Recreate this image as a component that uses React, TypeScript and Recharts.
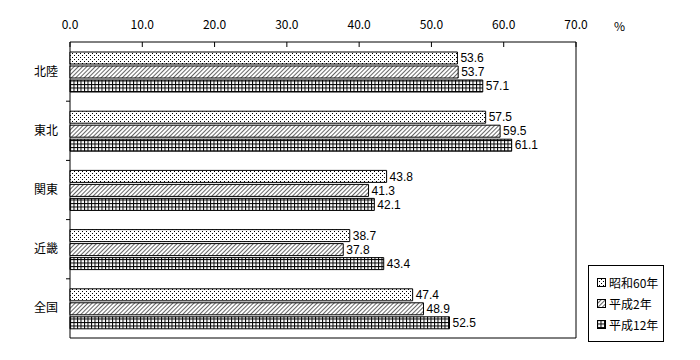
import { Bar, BarChart, LabelList, Legend, ReferenceArea, XAxis, YAxis } from "recharts";

const regions = ["北陸", "東北", "関東", "近畿", "全国"];
const showa60 = [53.6, 57.5, 43.8, 38.7, 47.4];
const heisei2 = [53.7, 59.5, 41.3, 37.8, 48.9];
const heisei12 = [57.1, 61.1, 42.1, 43.4, 52.5];
const xTicks = [0, 10, 20, 30, 40, 50, 60, 70];

const seriesKeys = ["s60", "h2", "h12"];
const seriesNames: Record<string, string> = { s60: "昭和60年", h2: "平成2年", h12: "平成12年" };
const patternOf: Record<string, string> = { s60: "pat-dots", h2: "pat-hatch", h12: "pat-grid" };

const rows = regions.map((name, i) => ({
  name,
  s60: showa60[i],
  h2: heisei2[i],
  h12: heisei12[i],
}));

const FONT = "'Noto Sans CJK JP', 'DejaVu Sans', sans-serif";
const NUM_FONT = "'Liberation Sans', Arial, sans-serif";

function Patterns({ prefix = "" }: { prefix?: string }) {
  return (
    <defs>
      <pattern id={prefix + "pat-dots"} width={4} height={4} patternUnits="userSpaceOnUse">
        <rect width={4} height={4} fill="#fff" />
        <rect x={0} y={1} width={1} height={1} fill="#000" />
        <rect x={2} y={3} width={1} height={1} fill="#000" />
      </pattern>
      <pattern
        id={prefix + "pat-hatch"}
        width={3}
        height={3}
        patternUnits="userSpaceOnUse"
        patternTransform="rotate(45)"
      >
        <rect width={3} height={3} fill="#fff" />
        <line x1={0} y1={0} x2={0} y2={3} stroke="#000" strokeWidth={1.2} />
      </pattern>
      <pattern id={prefix + "pat-grid"} width={3.5} height={3.5} patternUnits="userSpaceOnUse">
        <rect width={3.5} height={3.5} fill="#fff" />
        <line x1={0.5} y1={0} x2={0.5} y2={3.5} stroke="#000" strokeWidth={1} />
        <line x1={0} y1={0.5} x2={3.5} y2={0.5} stroke="#000" strokeWidth={1} />
      </pattern>
    </defs>
  );
}

function TopTick(props: any) {
  const { x, y, payload } = props;
  return (
    <g>
      <line x1={x} y1={y} x2={x} y2={y + 5} stroke="#000" />
      <text x={x} y={y - 13} textAnchor="middle" fontSize={12} fontFamily={FONT} fill="#000">
        {Number(payload.value).toFixed(1)}
      </text>
    </g>
  );
}

function RegionTick(props: any) {
  const { x, y, payload, index } = props;
  const half = payload.offset ?? 0;
  return (
    <g>
      <text x={x - 12} y={y + 4} textAnchor="end" fontSize={12} fontFamily={FONT} fill="#000">
        {payload.value}
      </text>
      {index < regions.length - 1 && (
        <line x1={x - 4} y1={y + half} x2={x} y2={y + half} stroke="#000" />
      )}
    </g>
  );
}

function LegendBox({ payload }: any) {
  const items = [...(payload ?? [])].sort(
    (a: any, b: any) => seriesKeys.indexOf(a.dataKey) - seriesKeys.indexOf(b.dataKey)
  );
  return (
    <div
      style={{
        border: "1px solid #000",
        background: "#fff",
        padding: "6px 0 6px 8px",
        width: 66,
        fontFamily: FONT,
        fontSize: 12,
        lineHeight: "21px",
        color: "#000",
      }}
    >
      {items.map((p: any) => (
        <div key={p.dataKey} style={{ display: "flex", alignItems: "center", height: 21 }}>
          <svg width={9} height={9} style={{ marginRight: 3 }}>
            <Patterns prefix="lg-" />
            <rect x={0.5} y={0.5} width={8} height={8} fill={`url(#lg-${patternOf[p.dataKey]})`} stroke="#000" />
          </svg>
          <span>{p.value}</span>
        </div>
      ))}
    </div>
  );
}

export default function App() {
  return (
    <div style={{ position: "absolute", left: 0, top: 0, width: 700, height: 360, background: "#fff" }}>
      <BarChart
        width={700}
        height={360}
        data={rows}
        layout="vertical"
        margin={{ top: 12, right: 124, bottom: 22, left: 0 }}
        barSize={12}
        barGap={2}
      >
        <Patterns />
        <XAxis
          type="number"
          orientation="top"
          domain={[0, 70]}
          ticks={xTicks}
          height={30}
          tickSize={0}
          tickMargin={0}
          tickLine={false}
          axisLine={false}
          tick={<TopTick />}
          label={{ value: "%", position: "right", offset: 38, fontSize: 12, fontFamily: FONT, fill: "#000" }}
        />
        <YAxis
          type="category"
          dataKey="name"
          width={70}
          tickSize={0}
          tickMargin={0}
          tickLine={false}
          axisLine={false}
          tick={<RegionTick />}
        />
        <Legend
          layout="vertical"
          align="center"
          verticalAlign="middle"
          wrapperStyle={{ left: 588, top: 265, width: 76 }}
          content={<LegendBox />}
        />
        {seriesKeys.map((k) => (
          <Bar
            key={k}
            dataKey={k}
            name={seriesNames[k]}
            fill={`url(#${patternOf[k]})`}
            stroke="#000"
            strokeWidth={1}
            isAnimationActive={false}
          >
            <LabelList
              dataKey={k}
              position="right"
              offset={3}
              formatter={(v: any) => Number(v).toFixed(1)}
              style={{ fontSize: 12, fontFamily: NUM_FONT, fill: "#000" }}
            />
          </Bar>
        ))}
        <ReferenceArea x1={0} x2={70} fill="none" stroke="#000" strokeWidth={1} />
      </BarChart>
    </div>
  );
}
